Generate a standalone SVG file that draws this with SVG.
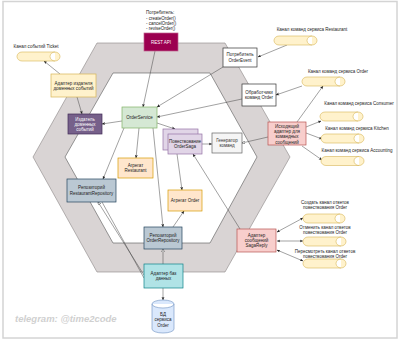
<svg xmlns="http://www.w3.org/2000/svg" width="400" height="341" viewBox="0 0 400 341">
<style>
text{font-family:"Liberation Sans",Arial,sans-serif;font-size:4.5px;fill:#222;text-anchor:middle}
.l{text-anchor:start}
.w{fill:#fff}
.box{stroke-width:0.7}
.c{fill:none;stroke:#444;stroke-width:0.5}
.cyl{fill:#fff2cc;stroke:#d6b656;stroke-width:0.6}
</style>
<defs>
<marker id="a" viewBox="0 0 6 6" refX="5.5" refY="3" markerWidth="3.5" markerHeight="3.5" markerUnits="userSpaceOnUse" orient="auto-start-reverse"><path d="M0,0.5 L6,3 L0,5.5 L1.5,3 Z" fill="#222"/></marker>
<marker id="h" viewBox="0 0 6 6" refX="5.5" refY="3" markerWidth="3.5" markerHeight="3.5" markerUnits="userSpaceOnUse" orient="auto"><path d="M0.5,0.5 L5.5,3 L0.5,5.5 Z" fill="#fff" stroke="#222" stroke-width="0.7"/></marker>
</defs>
<rect x="3" y="1.5" width="394" height="336.5" fill="#fff" stroke="#d4d4d4" stroke-width="1.5"/>
<g id="hexagons">
<polygon points="97,43 225,43 290,157 225,272 97,272 33,157" fill="#d9d4d4" stroke="#8a8585" stroke-width="0.6"/>
<polygon points="113,73 210,73 257,157 210,243 113,243 65,157" fill="#fff" stroke="#555" stroke-width="0.6"/>
</g>
<g id="connectors">
<path class="c" d="M155,51 L143,107" marker-end="url(#a)"/>
<path class="c" d="M223,67 L157,107" marker-end="url(#a)"/>
<path class="c" d="M242,99 L157,117" marker-end="url(#a)"/>
<path class="c" d="M287,45 L258,57" marker-end="url(#a)"/>
<path class="c" d="M302,86 L276,95" marker-end="url(#a)"/>
<path class="c" d="M297,122 L323,86" marker-end="url(#a)"/>
<path class="c" d="M306,127 L321,121" marker-end="url(#a)"/>
<path class="c" d="M306,133 L322,139" marker-end="url(#a)"/>
<path class="c" d="M302,146 L322,160" marker-end="url(#a)"/>
<path class="c" d="M268,137 L242,143" marker-end="url(#h)"/>
<path class="c" d="M202,144 L212,144" marker-end="url(#a)"/>
<path class="c" d="M157,123 L175,129" marker-end="url(#a)"/>
<path class="c" d="M139,128 L136,158" marker-end="url(#a)"/>
<path class="c" d="M124,128 L103,179" marker-end="url(#a)"/>
<path class="c" d="M153,128 L163,227" marker-end="url(#a)"/>
<path class="c" d="M177,154 L182,190" marker-end="url(#a)"/>
<path class="c" d="M173,227 L184,211" marker-end="url(#a)"/>
<path class="c" d="M240,229 L193,154" marker-end="url(#a)"/>
<path class="c" d="M163,264 L163,249" marker-end="url(#h)"/>
<path class="c" d="M144,275 L98,202" marker-end="url(#h)"/>
<path class="c" d="M144,278 L102,202"/>
<path class="c" d="M163,288 L163,300" marker-end="url(#a)"/>
<path class="c" d="M122,121 L102,124" marker-end="url(#a)"/>
<path class="c" d="M77,97 L82,114" marker-end="url(#a)"/>
<path class="c" d="M60,74 L44,61" marker-end="url(#a)"/>
<path class="c" d="M277,232 L303,218" marker-start="url(#a)" marker-end="url(#a)"/>
<path class="c" d="M277,241 L303,241" marker-start="url(#a)" marker-end="url(#a)"/>
<path class="c" d="M277,250 L303,261" marker-start="url(#a)" marker-end="url(#a)"/>
</g>
<g id="rest-api">
<text class="l" x="146" y="14.2">Потребитель:</text>
<text class="l" x="146" y="19.5">- createOrder()</text>
<text class="l" x="146" y="24.8">- cancelOrder()</text>
<text class="l" x="146" y="30.1">- reviseOrder()</text>
<rect class="box" x="144" y="33" width="34" height="18" fill="#9c0050" stroke="#c0608e"/>
<text class="w" x="161" y="43.6">REST API</text>
</g>
<g id="ticket-channel">
<text x="36" y="47.6">Канал событий Ticket</text>
<path class="cyl" d="M22,52 L55,52 A5,4.5 0 0 1 55,61 L22,61 A5,4.5 0 0 1 22,52 Z M55,52 A5,4.5 0 0 0 55,61"/>
</g>
<g id="publisher-adapter">
<rect class="box" x="51" y="74" width="45" height="23" fill="#fff2cc" stroke="#d6b656"/>
<text x="73.5" y="84.5">Адаптер издателя</text>
<text x="73.5" y="89.8">доменных событий</text>
</g>
<g id="publisher">
<rect class="box" x="68" y="114" width="34" height="20" fill="#76608a" stroke="#432d57"/>
<text class="w" x="85" y="120.8">Издатель</text>
<text class="w" x="85" y="126.1">доменных</text>
<text class="w" x="85" y="131.4">событий</text>
</g>
<g id="order-service">
<rect class="box" x="122" y="107" width="35" height="21" fill="#d5e8d4" stroke="#82b366"/>
<text x="139.5" y="119">OrderService</text>
</g>
<g id="consumer-orderevent">
<rect class="box" x="223" y="48" width="34" height="19" fill="#fff" stroke="#333"/>
<text x="240" y="56.3">Потребитель</text>
<text x="240" y="61.6">OrderEvent</text>
</g>
<g id="restaurant-channel">
<text x="312" y="30.6">Канал команд сервиса Restaurant</text>
<path class="cyl" d="M279,36 L312,36 A5,4.5 0 0 1 312,45 L279,45 A5,4.5 0 0 1 279,36 Z M312,36 A5,4.5 0 0 0 312,45"/>
</g>
<g id="order-handlers">
<rect class="box" x="242" y="84" width="34" height="22" fill="#fff" stroke="#333"/>
<text x="259" y="93.8">Обработчики</text>
<text x="259" y="99.1">команд Order</text>
</g>
<g id="order-channel">
<text x="338" y="72.6">Канал команд сервиса Order</text>
<path class="cyl" d="M307,77 L340,77 A5,4.5 0 0 1 340,86 L307,86 A5,4.5 0 0 1 307,77 Z M340,77 A5,4.5 0 0 0 340,86"/>
</g>
<g id="consumer-channel">
<text x="359" y="104.6">Канал команд сервиса Consumer</text>
<path class="cyl" d="M325,112 L358,112 A5,4.5 0 0 1 358,121 L325,121 A5,4.5 0 0 1 325,112 Z M358,112 A5,4.5 0 0 0 358,121"/>
</g>
<g id="kitchen-channel">
<text x="357" y="129.6">Канал команд сервиса Kitchen</text>
<path class="cyl" d="M326,134 L359,134 A5,4.5 0 0 1 359,143 L326,143 A5,4.5 0 0 1 326,134 Z M359,134 A5,4.5 0 0 0 359,143"/>
</g>
<g id="accounting-channel">
<text x="357" y="151.6">Канал команд сервиса Accounting</text>
<path class="cyl" d="M326,156.5 L359,156.5 A5,4.5 0 0 1 359,165.5 L326,165.5 A5,4.5 0 0 1 326,156.5 Z M359,156.5 A5,4.5 0 0 0 359,165.5"/>
</g>
<g id="outbound-adapter">
<rect class="box" x="268" y="122" width="38" height="23" fill="#f8cecc" stroke="#b85450"/>
<text x="287" y="127.8">Исходящий</text>
<text x="287" y="133.1">адаптер для</text>
<text x="287" y="138.4">командных</text>
<text x="287" y="143.7">сообщений</text>
</g>
<g id="command-generator">
<rect class="box" x="212" y="133" width="30" height="20" fill="#f5f5f5" stroke="#666"/>
<text x="227" y="141.8" style="fill:#333">Генератор</text>
<text x="227" y="147.1" style="fill:#333">команд</text>
</g>
<g id="order-saga">
<rect class="box" x="163" y="129" width="35" height="21" fill="#e1d5e7" stroke="#9673a6"/>
<rect class="box" x="168" y="134" width="34" height="20" fill="#e1d5e7" stroke="#9673a6"/>
<text x="185" y="142.5">Повествование</text>
<text x="185" y="147.8">OrderSaga</text>
</g>
<g id="restaurant-aggregate">
<rect class="box" x="118" y="158" width="35" height="20" fill="#ffe6cc" stroke="#d79b00"/>
<text x="135.5" y="166.8">Агрегат</text>
<text x="135.5" y="172.1">Restaurant</text>
</g>
<g id="order-aggregate">
<rect class="box" x="168" y="190" width="34" height="21" fill="#ffe6cc" stroke="#d79b00"/>
<text x="185" y="202">Агрегат Order</text>
</g>
<g id="restaurant-repository">
<rect class="box" x="67" y="179" width="49" height="23" fill="#bac8d3" stroke="#23445d"/>
<text x="91.5" y="189.3">Репозиторий</text>
<text x="91.5" y="194.6">RestaurantRepository</text>
</g>
<g id="order-repository">
<rect class="box" x="144" y="227" width="38" height="22" fill="#bac8d3" stroke="#23445d"/>
<text x="163" y="237">Репозиторий</text>
<text x="163" y="242.3">OrderRepository</text>
</g>
<g id="db-adapter">
<rect class="box" x="144" y="264" width="39" height="24" fill="#b0e3e6" stroke="#0e8088"/>
<text x="163.5" y="275">Адаптер баз</text>
<text x="163.5" y="280.3">данных</text>
</g>
<g id="order-db">
<path d="M152,304 A11,4 0 0 1 174,304 L174,329 A11,4 0 0 1 152,329 Z M152,304 A11,4 0 0 0 174,304" fill="#dae8fc" stroke="#6c8ebf" stroke-width="0.6"/>
<text x="163" y="316">БД</text>
<text x="163" y="321.3">сервиса</text>
<text x="163" y="326.6">Order</text>
</g>
<g id="sagareply-adapter">
<rect class="box" x="237" y="229" width="39" height="23" fill="#f8cecc" stroke="#b85450"/>
<text x="256.5" y="236.6">Адаптер</text>
<text x="256.5" y="241.9">сообщений</text>
<text x="256.5" y="247.2">SagaReply</text>
</g>
<g id="create-reply-channel">
<text x="325" y="203.6">Создать канал ответов</text>
<text x="325" y="208.9">повествования Order</text>
<path class="cyl" d="M308,214 L340,214 A5,4.5 0 0 1 340,223 L308,223 A5,4.5 0 0 1 308,214 Z M340,214 A5,4.5 0 0 0 340,223"/>
</g>
<g id="cancel-reply-channel">
<text x="325" y="228.6">Отменить канал ответов</text>
<text x="325" y="233.9">повествования Order</text>
<path class="cyl" d="M308,237 L341,237 A5,4.5 0 0 1 341,246 L308,246 A5,4.5 0 0 1 308,237 Z M341,237 A5,4.5 0 0 0 341,246"/>
</g>
<g id="revise-reply-channel">
<text x="325" y="252.6">Пересмотреть канал ответов</text>
<text x="325" y="257.9">повествования Order</text>
<path class="cyl" d="M308,259 L341,259 A5,4.5 0 0 1 341,268 L308,268 A5,4.5 0 0 1 308,259 Z M341,259 A5,4.5 0 0 0 341,268"/>
</g>
<text x="15" y="321.5" class="l" style="font-size:9.5px;font-weight:bold;font-style:italic;fill:#d0d0d0">telegram: @time2code</text>
</svg>
